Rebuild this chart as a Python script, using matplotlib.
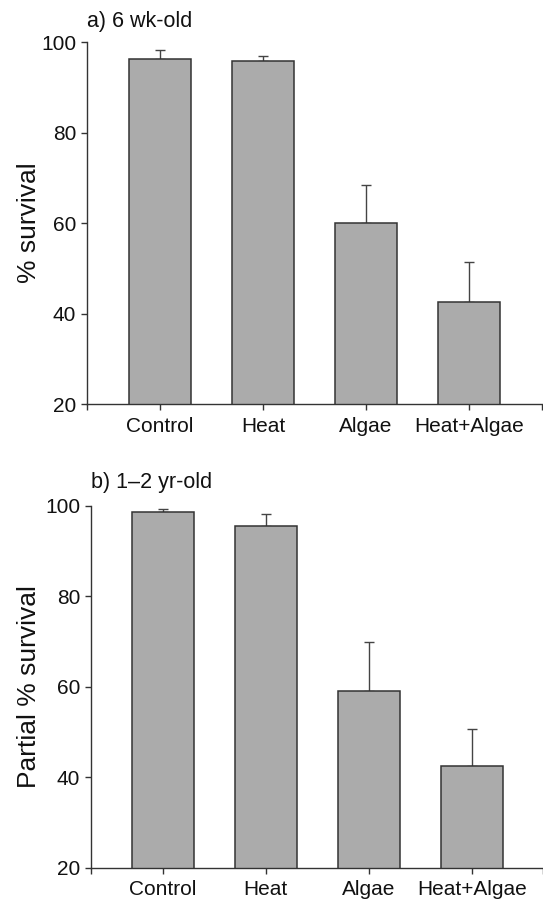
import matplotlib
matplotlib.use("Agg")
import matplotlib.pyplot as plt
import numpy as np

plt.rcParams['font.family'] = ['Liberation Sans', 'DejaVu Sans']

categories = ["Control", "Heat", "Algae", "Heat+Algae"]

# panel a) 6 wk-old : % survival
a_mean = [96.2, 95.7, 60.1, 42.6]
a_err = [2.0, 1.2, 8.3, 8.8]

# panel b) 1-2 yr-old : partial % survival
b_mean = [98.6, 95.5, 59.1, 42.5]
b_err = [0.6, 2.7, 10.8, 8.1]

yticks = [20, 40, 60, 80, 100]

W, H = 543, 901
fig = plt.figure(figsize=(W / 100, H / 100), dpi=100)

def px_rect(left, top, right, bottom):
    return [left / W, 1 - bottom / H, (right - left) / W, (bottom - top) / H]

ax_a = fig.add_axes(px_rect(86.7, 42, 542, 404))
ax_b = fig.add_axes(px_rect(90.7, 505.7, 543, 867.7))

BAR = "#ababab"
EDGE = "#333333"

def draw(ax, mean, err, title, ylabel, xlim, title_off_px, label_x):
    x = np.arange(len(categories))
    ax.bar(x, mean, width=0.6, bottom=0, color=BAR, edgecolor=EDGE,
           linewidth=1.1, zorder=2)
    ax.errorbar(x, mean, yerr=[np.zeros(len(err)), err], fmt='none',
                ecolor="#444444", elinewidth=1.0, capsize=3.8,
                capthick=1.0, zorder=1.5)
    ax.set_ylim(20, 100)
    ax.set_xlim(*xlim)
    ax.set_yticks(yticks)
    ax.set_xticks(x)
    ax.set_xticklabels(categories)
    ax.set_xticks(list(xlim), minor=True)
    for s in ["top", "right"]:
        ax.spines[s].set_visible(False)
    for s in ["left", "bottom"]:
        ax.spines[s].set_color(EDGE)
        ax.spines[s].set_linewidth(1.0)
    ax.tick_params(axis='both', which='both', direction='out', length=4,
                   width=1.0, color=EDGE, labelsize=15, labelcolor="#111111")
    ax.tick_params(axis='y', pad=3.5)
    ax.tick_params(axis='x', pad=5.0)
    ax.set_ylabel(ylabel, fontsize=19, color="#111111")
    ax.yaxis.set_label_coords(label_x, 0.5)
    ax.annotate(title, xy=(0, 1), xycoords='axes fraction',
                xytext=(0, title_off_px * 0.72), textcoords='offset points',
                ha='left', va='baseline', fontsize=15.5, color="#111111")

draw(ax_a, a_mean, a_err, "a) 6 wk-old", "% survival", (-0.712, 3.709), 15.3, -0.10)
draw(ax_b, b_mean, b_err, "b) 1\u20132 yr-old", "Partial % survival", (-0.70, 3.69), 17.7, -0.11)

fig.savefig("out.png", dpi=100, facecolor="white")
